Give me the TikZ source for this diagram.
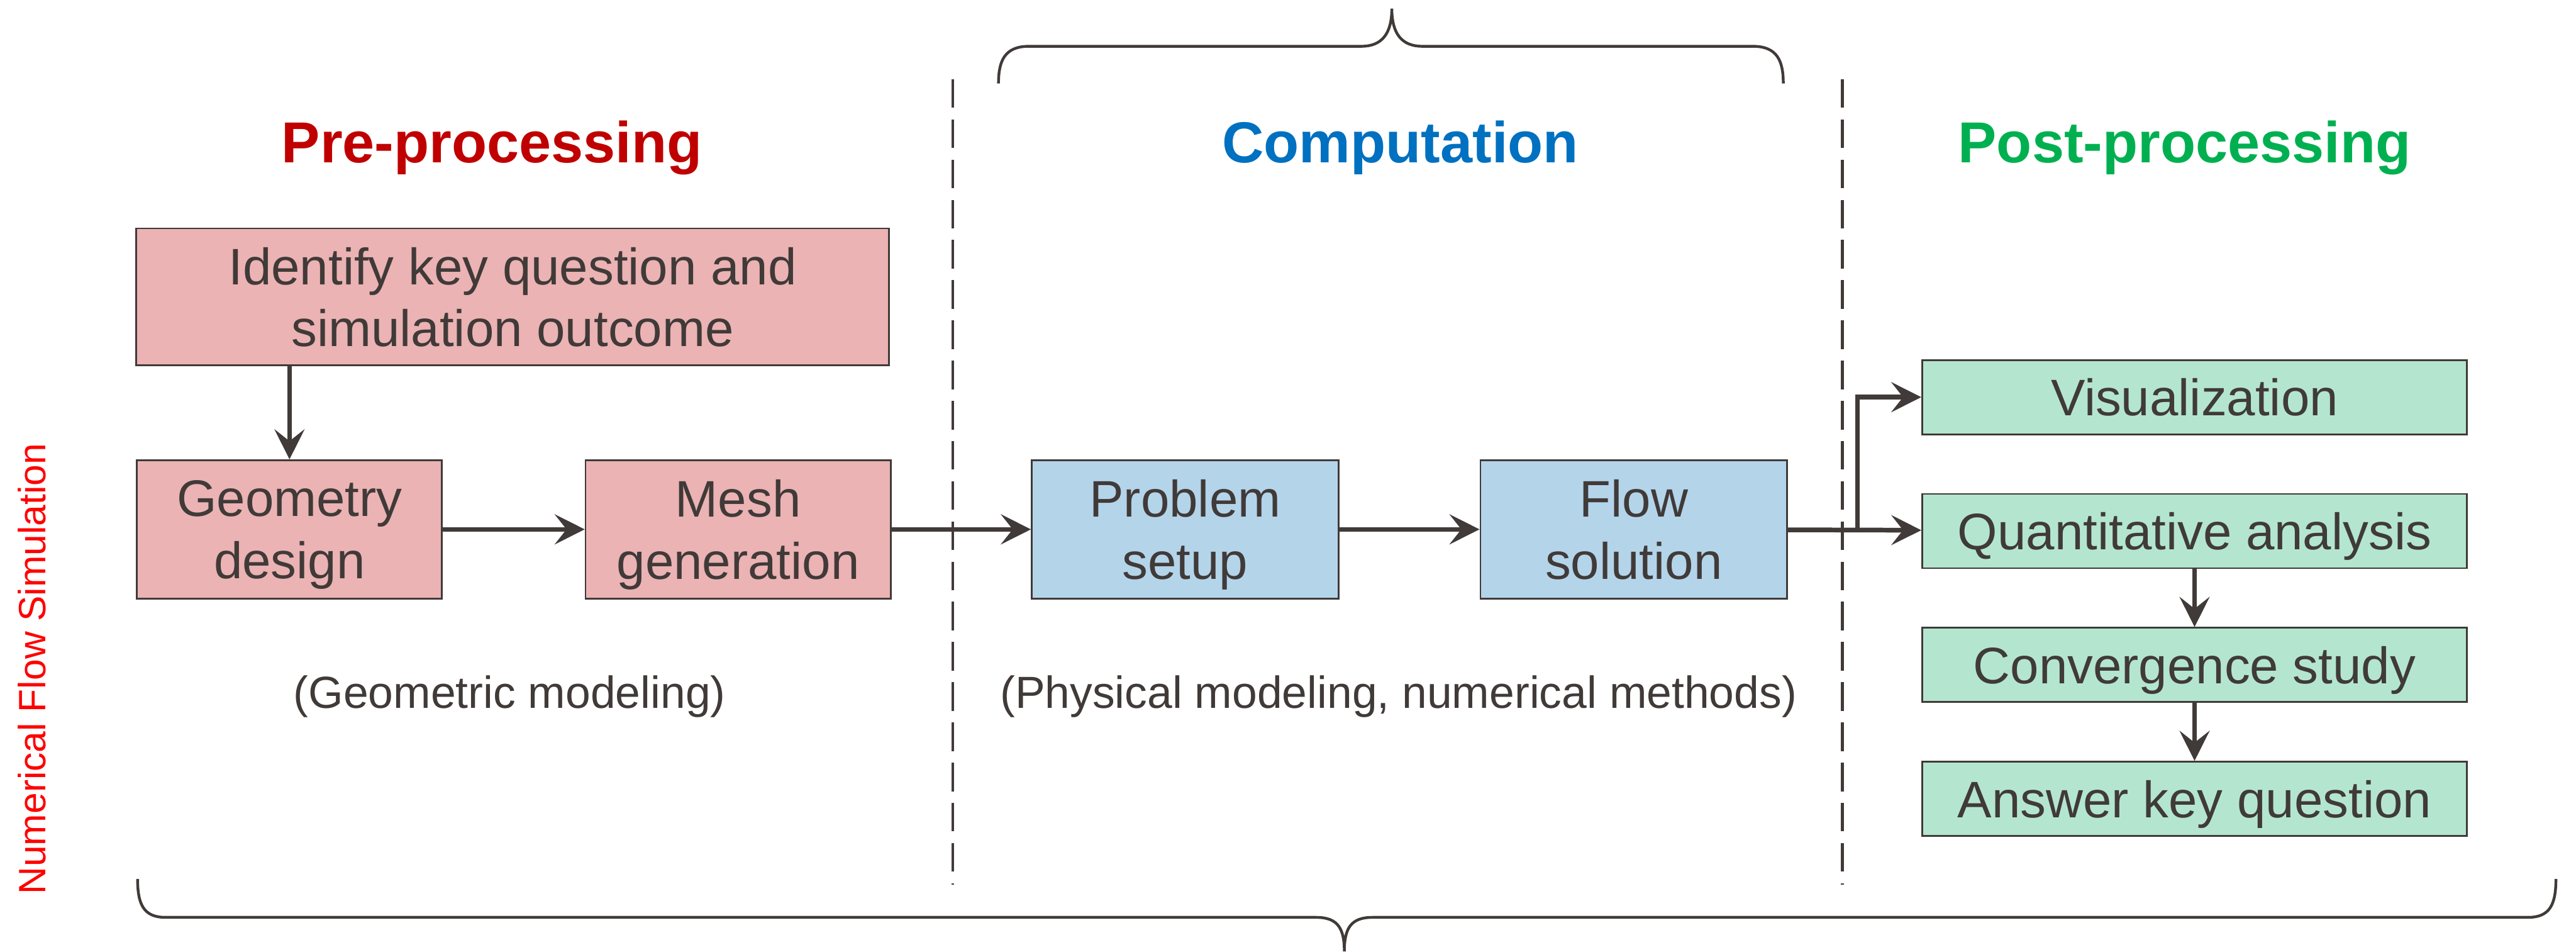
\documentclass[tikz,border=0pt]{standalone}
\usepackage{fontspec}
\setmainfont{Liberation Sans}
\usepackage{xcolor}
\usetikzlibrary{positioning,arrows.meta}
\definecolor{inkgray}{RGB}{64,58,56}
\definecolor{prefill}{RGB}{235,179,180}
\definecolor{compfill}{RGB}{180,212,234}
\definecolor{postfill}{RGB}{180,230,207}
\definecolor{prered}{RGB}{192,0,0}
\definecolor{compblue}{RGB}{0,112,192}
\definecolor{postgreen}{RGB}{0,176,80}
\tikzset{
stage/.style={
draw=inkgray,
line width=0.8pt,
inner sep=0pt,
align=center,
text=inkgray,
text depth=0pt,
font=\fontsize{24}{29}\selectfont
},
prebox/.style={
stage,
fill=prefill,
minimum width=5.01cm,
minimum height=2.27cm
},
compbox/.style={
stage,
fill=compfill,
minimum width=5.04cm,
minimum height=2.27cm
},
postbox/.style={
stage,
fill=postfill,
minimum width=8.95cm,
minimum height=1.22cm
},
phase/.style={
font=\bfseries\fontsize{27}{32}\selectfont
},
remark/.style={
text=inkgray,
font=\fontsize{21}{25}\selectfont
},
arrow/.style={
-{Stealth[length=14pt,width=14pt,inset=5.5pt]},
line width=2.2pt,
draw=inkgray
},
divider/.style={
draw=inkgray,
line width=1.4pt,
dash pattern=on 0.47cm off 0.19cm
},
bracket/.style={
draw=inkgray,
line width=1.3pt
}
}
\begin{document}
\begin{tikzpicture}[node distance=2.3cm]
\useasboundingbox (0,0) rectangle (42.31,-15.62);

\node[phase,text=prered](pretitle) at (8.08,-2.43){Pre-processing};
\node[phase,text=compblue](comptitle) at (23.00,-2.43){Computation};
\node[phase,text=postgreen](posttitle) at (35.88,-2.43){Post-processing};

\node[prebox,minimum width=12.36cm,minimum height=2.25cm](ident) at (8.42,-4.875){Identify key question and\\simulation outcome};
\node[prebox](geo) at (4.755,-8.69){Geometry\\design};
\node[prebox,right=2.33cm of geo](mesh){Mesh\\generation};
\node[compbox,right=2.29cm of mesh](setup){Problem\\setup};
\node[compbox,right=of setup](flow){Flow\\solution};

\node[postbox](viz) at (36.045,-6.52){Visualization};
\node[postbox,below=0.95cm of viz](quant){Quantitative analysis};
\node[postbox,below=0.95cm of quant](conv){Convergence study};
\node[postbox,below=0.95cm of conv](answer){Answer key question};

\node[remark](geonote) at (8.37,-11.44){(Geometric modeling)};
\node[remark](compnote) at (22.97,-11.44){(Physical modeling, numerical methods)};

\node[rotate=90,text=red,font=\fontsize{17.8}{21}\selectfont](simlabel) at (0.53,-10.98){Numerical Flow Simulation};

\draw[divider](15.65,-1.30)--(15.65,-14.52);
\draw[divider](30.26,-1.30)--(30.26,-14.52);

\draw[arrow](ident.south -| geo)--(geo);
\foreach \x/\y in {geo/mesh,mesh/setup,setup/flow,flow/quant,quant/conv,conv/answer}
\draw[arrow](\x)--(\y);
\coordinate (split) at (30.51,-8.69);
\draw[arrow](split) |- (viz);

\draw[bracket](16.40,-1.37) .. controls (16.40,-1.00) and (16.50,-0.76) .. (16.90,-0.76)
--(22.36,-0.76) .. controls (22.70,-0.76) and (22.86,-0.55) .. (22.86,-0.14)
.. controls (22.86,-0.55) and (23.02,-0.76) .. (23.36,-0.76)
--(28.79,-0.76) .. controls (29.19,-0.76) and (29.29,-1.00) .. (29.29,-1.37);
\draw[bracket](2.26,-14.43) .. controls (2.26,-14.85) and (2.36,-15.06) .. (2.72,-15.06)
--(21.62,-15.06) .. controls (21.98,-15.06) and (22.08,-15.25) .. (22.08,-15.62)
.. controls (22.08,-15.25) and (22.18,-15.06) .. (22.54,-15.06)
--(41.52,-15.06) .. controls (41.88,-15.06) and (41.98,-14.85) .. (41.98,-14.43);
\end{tikzpicture}
\end{document}
